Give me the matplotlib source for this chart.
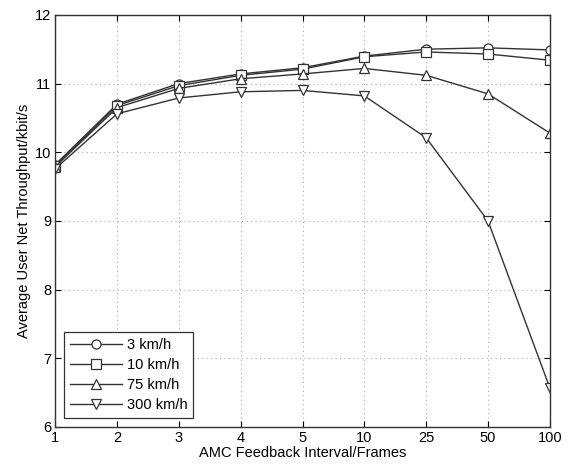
import numpy as np
import matplotlib
matplotlib.use("Agg")
import matplotlib.pyplot as plt

plt.rcParams['font.family'] = ['Liberation Sans', 'DejaVu Sans']

x_labels = ['1', '2', '3', '4', '5', '10', '25', '50', '100']
v3 = [9.82, 10.70, 11.00, 11.14, 11.23, 11.40, 11.50, 11.52, 11.49]
v10 = [9.80, 10.68, 10.97, 11.12, 11.21, 11.39, 11.46, 11.43, 11.34]
v75 = [9.79, 10.65, 10.93, 11.07, 11.14, 11.22, 11.12, 10.85, 10.28]
v300 = [9.76, 10.56, 10.79, 10.88, 10.90, 10.82, 10.21, 9.00, 6.57]

labels = ['3 km/h', '10 km/h', '75 km/h', '300 km/h']
markers = ['o', 's', '^', 'v']

fig = plt.figure(figsize=(5.88, 4.65), dpi=100)
ax = fig.add_axes([0.094, 0.082, 0.841, 0.886])

xs = np.arange(1, len(x_labels) + 1)
for vals, lab, m in zip([v3, v10, v75, v300], labels, markers):
    ax.plot(xs, vals, color='#333333', linewidth=1.0, marker=m, markersize=6.5,
            markerfacecolor='white', markeredgecolor='#333333', markeredgewidth=0.9,
            label=lab)

ax.set_xlim(1, 9)
ax.set_ylim(6, 12)
ax.set_xticks(xs)
ax.set_xticklabels(x_labels)
ax.set_yticks(range(6, 13))
ax.tick_params(direction='in', labelsize=10.5, length=4, top=True, right=True, pad=3)
ax.grid(True, linestyle=(0, (1, 3)), color='#aaaaaa', linewidth=0.8)
for s in ax.spines.values():
    s.set_linewidth(1.0)
    s.set_color('#333333')

ax.set_xlabel('AMC Feedback Interval/Frames', fontsize=10.5, labelpad=1)
ax.set_ylabel('Average User Net Throughput/kbit/s', fontsize=10.5, labelpad=3)

leg = ax.legend(loc='lower left', fontsize=10.5, fancybox=False, framealpha=1,
                edgecolor='#333333', handlelength=3.6, borderaxespad=0.6,
                labelspacing=0.42, handletextpad=0.3, borderpad=0.4)
leg.get_frame().set_linewidth(0.9)

fig.savefig('out.png', dpi=100)
